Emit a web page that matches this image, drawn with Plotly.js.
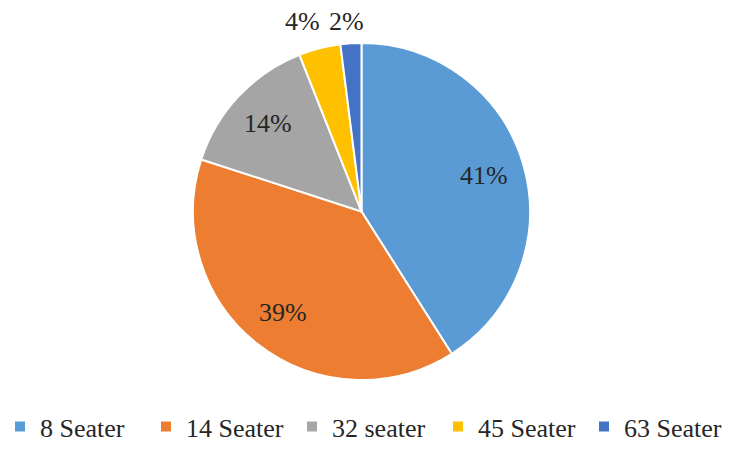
<!DOCTYPE html>
<html>
<head>
<meta charset="utf-8">
<script src="https://cdn.plot.ly/plotly-3.0.1.min.js"></script>
<style>html,body{margin:0;padding:0;background:#fff;}#chart{width:730px;height:450px;}</style>
</head>
<body>
<div id="chart"></div>
<script>
const labels = ["8 Seater", "14 Seater", "32 seater", "45 Seater", "63 Seater"];
const values = [41, 39, 14, 4, 2];
const colors = ["#5B9BD5", "#ED7D31", "#A5A5A5", "#FFC000", "#4472C4"];
const labelInside = [true, true, true, false, false];

const W = 730, H = 450;
const dom = {x: [0.2644, 0.726], y: [0.1556, 0.9044]};
const SERIF = "Liberation Serif, serif";

// pie geometry derived from the domain (used to place the data labels)
const cxPx = (dom.x[0] + dom.x[1]) / 2 * W;
const cyPx = (1 - (dom.y[0] + dom.y[1]) / 2) * H;
const rPx = Math.min((dom.x[1] - dom.x[0]) * W, (dom.y[1] - dom.y[0]) * H) / 2;

const total = values.reduce((a, b) => a + b, 0);
const annotations = [];
let cum = 0;
values.forEach((v, i) => {
  const mid = (cum + v / 2) / total * 2 * Math.PI; // clockwise from top
  cum += v;
  let px, py;
  if (labelInside[i]) {
    px = cxPx + 0.76 * rPx * Math.sin(mid);
    py = cyPx - 0.76 * rPx * Math.cos(mid);
  } else {
    px = cxPx + 1.4 * rPx * Math.sin(mid);
    py = cyPx - 1.125 * rPx;
  }
  annotations.push({
    xref: "paper", yref: "paper",
    x: px / W, y: 1 - py / H,
    xanchor: "center", yanchor: "middle",
    text: Math.round(v / total * 100) + "%",
    showarrow: false,
    font: {family: SERIF, size: 26, color: "#262626"}
  });
});

const trace = {
  type: "pie",
  labels: labels,
  values: values,
  sort: false,
  direction: "clockwise",
  rotation: 0,
  marker: {colors: colors, line: {color: "#ffffff", width: 2}},
  textinfo: "none",
  domain: dom,
  automargin: false,
  hoverinfo: "none"
};

const layout = {
  width: W, height: H,
  margin: {l: 0, r: 0, t: 0, b: 0},
  paper_bgcolor: "#ffffff",
  showlegend: true,
  annotations: annotations,
  legend: {
    orientation: "h",
    x: 0.5, xanchor: "center",
    y: 0.0, yanchor: "bottom",
    font: {family: SERIF, size: 26, color: "#262626"},
    itemwidth: 30,
    entrywidth: 101,
    entrywidthmode: "pixels",
    traceorder: "normal"
  },
  font: {family: SERIF}
};

Plotly.newPlot("chart", [trace], layout, {displayModeBar: false, staticPlot: true});
</script>
</body>
</html>
